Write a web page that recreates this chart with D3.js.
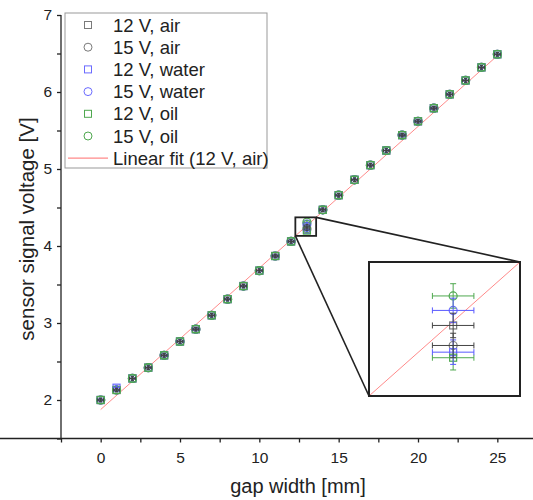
<!DOCTYPE html>
<html>
<head>
  <meta charset="utf-8">
  <script src="https://d3js.org/d3.v7.min.js"></script>
  <style>
    body { margin: 0; background: #fff; }
    svg { font-family: "Liberation Sans", Arial, sans-serif; }
    .axis path, .axis line { stroke: #222; stroke-width: 1.3px; }
    .axis text { font-size: 15.5px; fill: #222; }
  </style>
</head>
<body>
<svg width="533" height="500"></svg>
<script>
// gap width [mm]
var gap = [0,1,2,3,4,5,6,7,8,9,10,11,12,13,14,15,16,17,18,19,20,21,22,23,24,25];

// sensor signal voltage [V], one list per run
var air12   = [2.00,2.13,2.28,2.42,2.58,2.76,2.92,3.10,3.31,3.48,3.68,3.87,4.06,4.258,4.47,4.66,4.86,5.05,5.24,5.44,5.62,5.79,5.97,6.15,6.32,6.49];
var air15   = [2.00,2.13,2.28,2.42,2.58,2.76,2.92,3.10,3.31,3.48,3.68,3.87,4.06,4.222,4.47,4.66,4.86,5.05,5.24,5.44,5.62,5.79,5.97,6.15,6.32,6.49];
var water12 = [2.00,2.16,2.28,2.42,2.58,2.76,2.92,3.10,3.31,3.48,3.68,3.87,4.06,4.210,4.47,4.66,4.86,5.05,5.24,5.44,5.62,5.79,5.97,6.15,6.32,6.49];
var water15 = [2.00,2.13,2.28,2.42,2.58,2.76,2.92,3.10,3.31,3.48,3.68,3.87,4.06,4.285,4.47,4.66,4.86,5.05,5.24,5.44,5.62,5.79,5.97,6.15,6.32,6.49];
var oil12   = [2.00,2.13,2.28,2.42,2.58,2.76,2.92,3.10,3.31,3.48,3.68,3.87,4.06,4.200,4.47,4.66,4.86,5.05,5.24,5.44,5.62,5.79,5.97,6.15,6.32,6.49];
var oil15   = [2.00,2.13,2.28,2.42,2.58,2.76,2.92,3.10,3.31,3.48,3.68,3.87,4.06,4.311,4.47,4.66,4.86,5.05,5.24,5.44,5.62,5.79,5.97,6.15,6.32,6.49];

// error bars
var xErr = 0.18;
var yErr = 0.022;

// linear fit (12 V, air)
var fitIntercept = 1.876;
var fitSlope = 0.1838;
var fitRange = [0, 25];

// zoomed region
var zoomX = [12.27, 13.58];

var xTicks = [0, 5, 10, 15, 20, 25];
var yTicks = [2, 3, 4, 5, 6, 7];

var series = [
  {name: "12 V, air",   v: air12,   shape: "square", mark: "#7a7a7a", bar: "#444"},
  {name: "15 V, air",   v: air15,   shape: "circle", mark: "#7a7a7a", bar: "#444"},
  {name: "12 V, water", v: water12, shape: "square", mark: "#6b6bff", bar: "#5a5aff"},
  {name: "15 V, water", v: water15, shape: "circle", mark: "#6b6bff", bar: "#5a5aff"},
  {name: "12 V, oil",   v: oil12,   shape: "square", mark: "#4fa84f", bar: "#4fa84f"},
  {name: "15 V, oil",   v: oil15,   shape: "circle", mark: "#4fa84f", bar: "#4fa84f"}
];
var fitColor = "#ff8a8a";

var svg = d3.select("svg");

var x = d3.scaleLinear().domain([-2.5, 27.5]).range([61, 537]);
var y = d3.scaleLinear().domain([1.5, 7]).range([438.5, 15]);

function fit(g) { return fitIntercept + fitSlope * g; }

// markers first, then error bars (air bars end up on top)
function drawPoints(g, sx, sy, idx, cap) {
  series.forEach(function(s) {
    var pts = idx.map(function(i) { return {g: gap[i], v: s.v[i]}; });
    var sel = g.append("g").selectAll("g").data(pts).enter().append("g");
    if (s.shape === "square") {
      sel.append("rect")
        .attr("x", function(d) { return sx(d.g) - 3.5; })
        .attr("y", function(d) { return sy(d.v) - 3.5; })
        .attr("width", 7).attr("height", 7)
        .attr("fill", "none").attr("stroke", s.mark).attr("stroke-width", 1.2);
    } else {
      sel.append("circle")
        .attr("cx", function(d) { return sx(d.g); })
        .attr("cy", function(d) { return sy(d.v); })
        .attr("r", 4)
        .attr("fill", "none").attr("stroke", s.mark).attr("stroke-width", 1.2);
    }
  });
  series.slice().reverse().forEach(function(s) {
    var pts = idx.map(function(i) { return {g: gap[i], v: s.v[i]}; });
    var eb = g.append("g").attr("stroke", s.bar).attr("stroke-width", 1)
      .selectAll("g").data(pts).enter().append("g");
    eb.append("line")
      .attr("x1", function(d) { return sx(d.g - xErr); })
      .attr("x2", function(d) { return sx(d.g + xErr); })
      .attr("y1", function(d) { return sy(d.v); })
      .attr("y2", function(d) { return sy(d.v); });
    eb.append("line")
      .attr("x1", function(d) { return sx(d.g); })
      .attr("x2", function(d) { return sx(d.g); })
      .attr("y1", function(d) { return sy(d.v - yErr); })
      .attr("y2", function(d) { return sy(d.v + yErr); });
    if (cap > 0) {
      eb.append("path").attr("fill", "none").attr("d", function(d) {
        var xl = sx(d.g - xErr), xr = sx(d.g + xErr), cy = sy(d.v);
        var yt = sy(d.v + yErr), yb = sy(d.v - yErr), cx = sx(d.g);
        return "M" + xl + "," + (cy - cap) + "V" + (cy + cap) +
               "M" + xr + "," + (cy - cap) + "V" + (cy + cap) +
               "M" + (cx - cap) + "," + yt + "H" + (cx + cap) +
               "M" + (cx - cap) + "," + yb + "H" + (cx + cap);
      });
    }
  });
}

// axes
svg.append("g")
  .attr("class", "axis")
  .attr("transform", "translate(0," + y(1.5) + ")")
  .call(d3.axisBottom(x).tickValues(d3.range(-2.5, 27.6, 2.5)).tickSize(4).tickPadding(9)
    .tickFormat(function(d) { return xTicks.indexOf(d) >= 0 ? d : ""; }));

svg.append("g")
  .attr("class", "axis")
  .attr("transform", "translate(" + x(-2.5) + ",0)")
  .call(d3.axisLeft(y).tickValues(d3.range(1.5, 7.01, 0.5)).tickSize(4).tickPadding(5)
    .tickFormat(function(d) { return yTicks.indexOf(d) >= 0 ? d : ""; }));

svg.selectAll(".axis .domain").attr("d", function() {
  return d3.select(this.parentNode).attr("transform").indexOf("translate(0") === 0
    ? "M0,0H" + x(27.5) : "M0," + y(1.5) + "V" + y(7);
});

// axis titles
svg.append("text")
  .attr("x", 298).attr("y", 493)
  .attr("text-anchor", "middle")
  .style("font-size", "20px").attr("fill", "#222")
  .text("gap width [mm]");

svg.append("text")
  .attr("transform", "translate(34,229) rotate(-90)")
  .attr("text-anchor", "middle")
  .style("font-size", "20.5px").attr("fill", "#222")
  .text("sensor signal voltage [V]");

// fit line
svg.append("line")
  .attr("x1", x(fitRange[0])).attr("y1", y(fit(fitRange[0])))
  .attr("x2", x(fitRange[1])).attr("y2", y(fit(fitRange[1])))
  .attr("stroke", fitColor).attr("stroke-width", 1);

drawPoints(svg.append("g"), x, y, d3.range(gap.length), 1.5);

// zoom box on main plot
var zb = {x0: x(zoomX[0]), x1: x(zoomX[1]), y0: y(fit(zoomX[1])), y1: y(fit(zoomX[0]))};
svg.append("rect")
  .attr("x", zb.x0).attr("y", zb.y0)
  .attr("width", zb.x1 - zb.x0).attr("height", zb.y1 - zb.y0)
  .attr("fill", "none").attr("stroke", "#222").attr("stroke-width", 1.8);

// inset
var ib = {x: 369, y: 262, w: 151, h: 134};
var ix = d3.scaleLinear().domain(zoomX).range([ib.x, ib.x + ib.w]);
var iy = d3.scaleLinear().domain([fit(zoomX[0]), fit(zoomX[1])]).range([ib.y + ib.h, ib.y]);

svg.append("line")
  .attr("x1", zb.x1).attr("y1", zb.y0).attr("x2", ib.x + ib.w).attr("y2", ib.y)
  .attr("stroke", "#222").attr("stroke-width", 1.6);
svg.append("line")
  .attr("x1", zb.x0).attr("y1", zb.y1).attr("x2", ib.x).attr("y2", ib.y + ib.h)
  .attr("stroke", "#222").attr("stroke-width", 1.6);

svg.append("rect")
  .attr("x", ib.x).attr("y", ib.y).attr("width", ib.w).attr("height", ib.h)
  .attr("fill", "#fff");

svg.append("line")
  .attr("x1", ix(zoomX[0])).attr("y1", iy(fit(zoomX[0])))
  .attr("x2", ix(zoomX[1])).attr("y2", iy(fit(zoomX[1])))
  .attr("stroke", fitColor).attr("stroke-width", 1);

drawPoints(svg.append("g"), ix, iy, [gap.indexOf(13)], 3);

svg.append("rect")
  .attr("x", ib.x).attr("y", ib.y).attr("width", ib.w).attr("height", ib.h)
  .attr("fill", "none").attr("stroke", "#222").attr("stroke-width", 2);

// legend
var lg = svg.append("g");
lg.append("rect")
  .attr("x", 65).attr("y", 13).attr("width", 202).attr("height", 155)
  .attr("fill", "#fff").attr("stroke", "#999").attr("stroke-width", 1);

var rows = series.concat([{name: "Linear fit (12 V, air)", shape: "line"}]);
var row = lg.selectAll("g.row").data(rows).enter().append("g")
  .attr("class", "row")
  .attr("transform", function(d, i) { return "translate(0," + (25 + i * 22.2) + ")"; });

row.each(function(d) {
  var r = d3.select(this);
  if (d.shape === "square") {
    r.append("rect").attr("x", 84.5).attr("y", -3.5).attr("width", 7).attr("height", 7)
      .attr("fill", "none").attr("stroke", d.mark);
  } else if (d.shape === "circle") {
    r.append("circle").attr("cx", 88).attr("cy", 0).attr("r", 4)
      .attr("fill", "none").attr("stroke", d.mark);
  } else {
    r.append("line").attr("x1", 68).attr("x2", 108).attr("y1", 0).attr("y2", 0)
      .attr("stroke", fitColor).attr("stroke-width", 1.3);
  }
});

row.append("text")
  .attr("x", 113)
  .attr("y", 6.5)
  .style("font-size", "18.5px").attr("fill", "#222")
  .text(function(d) { return d.name; });
</script>
</body>
</html>
